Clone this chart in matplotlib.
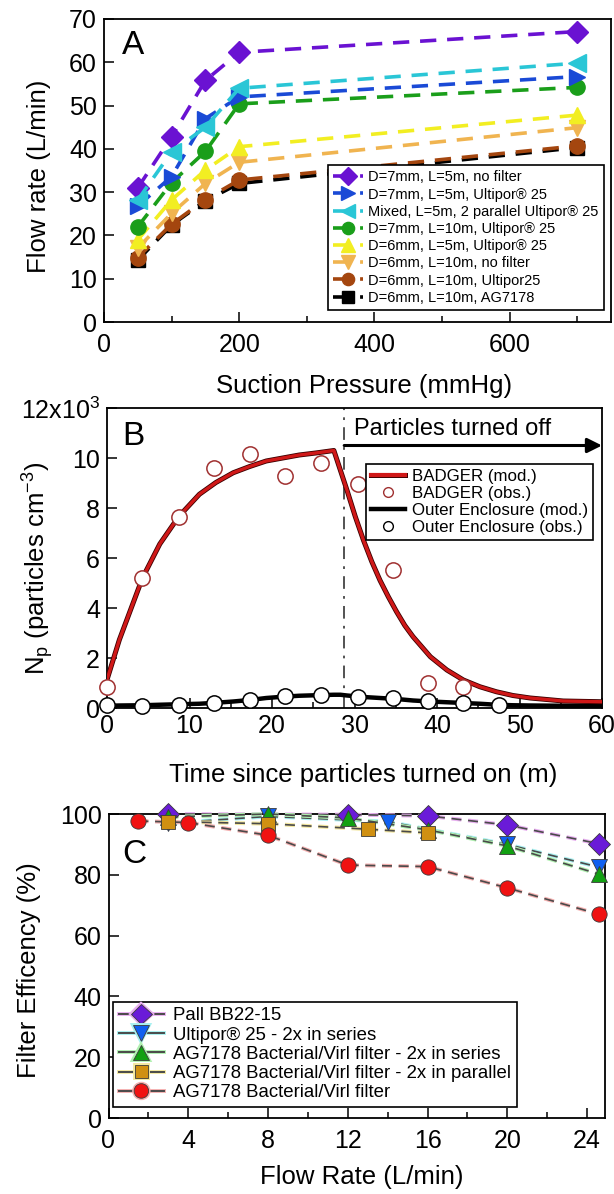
import matplotlib

matplotlib.use("Agg")
import matplotlib.pyplot as plt
import matplotlib.patheffects as pe
from matplotlib.lines import Line2D
from matplotlib.ticker import MultipleLocator

plt.rcParams["font.family"] = ["Liberation Sans", "DejaVu Sans"]
plt.rcParams["mathtext.fontset"] = "custom"
plt.rcParams["mathtext.rm"] = "Liberation Sans"
plt.rcParams["mathtext.it"] = "Liberation Sans:italic"

# ---- panel A: flow rate vs suction pressure
pressure = [50, 100, 150, 200, 700]
flow_labels = [
    "D=7mm, L=5m, no filter",
    "D=7mm, L=5m, Ultipor® 25",
    "Mixed, L=5m, 2 parallel Ultipor® 25",
    "D=7mm, L=10m, Ultipor® 25",
    "D=6mm, L=5m, Ultipor® 25",
    "D=6mm, L=10m, no filter",
    "D=6mm, L=10m, Ultipor25",
    "D=6mm, L=10m, AG7178",
]
flow_d7_l5_nofilter = [31.0, 42.8, 55.8, 62.3, 67.1]
flow_d7_l5_ultipor = [26.8, 33.6, 47.0, 52.0, 56.7]
flow_mixed_parallel = [28.2, 39.3, 45.0, 54.0, 59.8]
flow_d7_l10_ultipor = [22.0, 32.2, 39.4, 50.4, 54.2]
flow_d6_l5_ultipor = [19.0, 28.2, 35.1, 40.5, 47.8]
flow_d6_l10_nofilter = [17.1, 25.1, 32.0, 36.9, 44.9]
flow_d6_l10_ultipor = [14.9, 22.6, 28.3, 32.8, 40.7]
flow_d6_l10_ag7178 = [14.3, 22.4, 28.0, 32.0, 40.3]

# ---- panel B: particle number concentration
t_model = [0, 1.5, 4.3, 6.4, 8.7, 11.2, 13.2, 15.3, 17.3, 19.3, 21.3, 23.3, 25.3,
           27.5, 28.3, 29.1, 30.1, 31.1, 32.1, 33.1, 34.1, 35.1, 36.1, 37.1, 39.2,
           41.2, 43.2, 45.2, 47.2, 49.2, 51.3, 55.3, 60]
badger_model = [1130, 2730, 5200, 6560, 7660, 8550, 9020, 9410, 9660, 9880, 10000,
                10120, 10200, 10300, 9500, 8700, 7650, 6700, 5850, 5100, 4450, 3850,
                3300, 2850, 2050, 1520, 1120, 850, 650, 500, 400, 280, 250]
outer_model = [90, 100, 110, 130, 150, 170, 210, 260, 320, 400, 450, 490, 510,
               530, 530, 500, 470, 440, 420, 400, 380, 360, 330, 300, 260,
               230, 200, 170, 130, 110, 100, 90, 90]
t_obs = [0, 4.3, 8.7, 13.0, 17.3, 21.6, 25.9, 30.4, 34.7, 38.9, 43.2, 47.5]
badger_obs = [840, 5200, 7660, 9590, 10160, 9300, 9790, 8960, 5540, 1000, 840, None]
outer_obs = [130, 90, 130, 220, 330, 500, 530, 460, 400, 300, 200, 130]

# ---- panel C: filter efficiency vs flow rate
pall_flow = [3, 12, 16, 20, 24.6]
pall_eff = [100, 99.8, 99.4, 96.4, 90.2]
ultipor_flow = [3, 8, 14, 20, 24.6]
ultipor_eff = [97.0, 99.2, 97.5, 90.0, 82.5]
ag_series_flow = [3, 8, 12, 16, 20, 24.6]
ag_series_eff = [99.0, 100, 98.7, 94.8, 89.5, 80.2]
ag_parallel_flow = [3, 8, 13, 16]
ag_parallel_eff = [97.5, 96.8, 95.0, 93.8]
ag_single_flow = [1.5, 4, 8, 12, 16, 20, 24.6]
ag_single_eff = [97.7, 97.2, 93.0, 83.2, 82.7, 75.7, 67.0]
filter_labels = [
    "Pall BB22-15",
    "Ultipor® 25 - 2x in series",
    "AG7178 Bacterial/Virl filter - 2x in series",
    "AG7178 Bacterial/Virl filter - 2x in parallel",
    "AG7178 Bacterial/Virl filter",
]

TICK_FS = 18
LABEL_FS = 18.5


def style_axes(ax):
    for sp in ax.spines.values():
        sp.set_linewidth(1.3)
    ax.tick_params(which="both", direction="in", top=False, right=False,
                   labelsize=TICK_FS, width=1.1)
    ax.tick_params(which="major", length=7)
    ax.tick_params(which="minor", length=4)


fig = plt.figure(figsize=(6.14, 11.94), dpi=100)
W, H = 614, 1194


def axes_px(left, right, top, bottom):
    return fig.add_axes([left / W, 1 - bottom / H, (right - left) / W, (bottom - top) / H])


# ================= panel A
axA = axes_px(104, 611, 19, 322)
series_a = [flow_d7_l5_nofilter, flow_d7_l5_ultipor, flow_mixed_parallel, flow_d7_l10_ultipor,
            flow_d6_l5_ultipor, flow_d6_l10_nofilter, flow_d6_l10_ultipor, flow_d6_l10_ag7178]
colors_a = ["#6A12D2", "#1A4AD6", "#2AC6D6", "#1A9E1A", "#F2EE22", "#F0B450", "#A4460F", "#000000"]
markers_a = ["D", ">", "<", "o", "^", "v", "o", "s"]
sizes_a = [11, 12, 13, 11, 12, 12, 11, 10]
zorders_a = [10, 11, 12, 9, 8, 7, 6, 5]
handles_a = []
for vals, col, mk, ms, zo, lab in zip(series_a, colors_a, markers_a, sizes_a, zorders_a, flow_labels):
    (ln,) = axA.plot(pressure, vals, color=col, marker=mk, markersize=ms, lw=2.6,
                     linestyle=(0, (4.5, 3)), markeredgecolor=col, zorder=zo, label=lab,
                     clip_on=False)
    handles_a.append(ln)
axA.set_xlim(0, 750)
axA.set_ylim(0, 70)
axA.xaxis.set_major_locator(MultipleLocator(200))
axA.xaxis.set_minor_locator(MultipleLocator(100))
axA.yaxis.set_major_locator(MultipleLocator(10))
style_axes(axA)
axA.tick_params(axis="x", pad=8)
axA.tick_params(axis="y", pad=5)
axA.set_xlabel("Suction Pressure (mmHg)", fontsize=LABEL_FS, va="center")
axA.xaxis.set_label_coords(0.512, -0.21)
axA.set_ylabel("Flow rate (L/min)", fontsize=LABEL_FS, va="center", ha="center")
axA.yaxis.set_label_coords(-0.128, 0.48)
axA.text(0.057, 0.914, "A", transform=axA.transAxes, fontsize=24, ha="center", va="center")
legA = axA.legend(handles=handles_a, loc="lower right", bbox_to_anchor=(0.986, 0.04),
                  fontsize=10.5, frameon=True, fancybox=False, framealpha=1, edgecolor="black",
                  handlelength=2.0, handletextpad=0.4, labelspacing=0.22, borderpad=0.35,
                  borderaxespad=0, markerscale=0.8)
legA.get_frame().set_linewidth(1.2)
legA.set_zorder(20)

# ================= panel B
axB = axes_px(107, 602, 408, 708)
red_fx = [pe.Stroke(linewidth=3.6, foreground="#3a0000"), pe.Normal()]
(ln_bm,) = axB.plot(t_model, badger_model, color="#D01818", lw=2.4, zorder=4,
                    path_effects=red_fx)
(ln_om,) = axB.plot(t_model, outer_model, color="black", lw=3.2, zorder=3)
bt = [t for t, v in zip(t_obs, badger_obs) if v is not None]
bv = [v for v in badger_obs if v is not None]
axB.plot(bt, bv, linestyle="none", marker="o", markersize=11, markerfacecolor="white",
         markeredgecolor="#A03030", markeredgewidth=1.1, zorder=5, clip_on=False)
axB.plot(t_obs, outer_obs, linestyle="none", marker="o", markersize=11, markerfacecolor="white",
         markeredgecolor="black", markeredgewidth=1.1, zorder=6, clip_on=False)
axB.axvline(28.75, color="#444444", lw=1.3, linestyle=(0, (7, 4, 1.5, 4)), zorder=2)
axB.annotate("", xy=(60, 10500), xytext=(28.75, 10500),
             arrowprops=dict(arrowstyle="-|>", lw=2.2, color="black", mutation_scale=22,
                             shrinkA=0, shrinkB=0), zorder=7)
axB.text(30.0, 11150, "Particles turned off", fontsize=17, ha="left", va="center")
axB.set_xlim(0, 60)
axB.set_ylim(0, 12000)
axB.xaxis.set_major_locator(MultipleLocator(10))
axB.xaxis.set_minor_locator(MultipleLocator(5))
axB.set_yticks([0, 2000, 4000, 6000, 8000, 10000, 12000])
axB.set_yticklabels(["0", "2", "4", "6", "8", "10", "12x10$^{3}$"])
style_axes(axB)
axB.tick_params(axis="x", pad=4)
axB.tick_params(axis="y", pad=5)
axB.set_xlabel("Time since particles turned on (m)", fontsize=LABEL_FS, va="center")
axB.xaxis.set_label_coords(0.518, -0.223)
axB.set_ylabel(r"N$_\mathrm{p}$ (particles cm$^{-3}$)", fontsize=LABEL_FS, va="center", ha="center")
axB.yaxis.set_label_coords(-0.14, 0.464)
axB.text(0.053, 0.904, "B", transform=axB.transAxes, fontsize=24, ha="center", va="center")
handles_b = [
    Line2D([], [], color="#D01818", lw=3, path_effects=red_fx),
    Line2D([], [], linestyle="none", marker="o", markersize=7, markerfacecolor="white",
           markeredgecolor="#A03030"),
    Line2D([], [], color="black", lw=3.2),
    Line2D([], [], linestyle="none", marker="o", markersize=7, markerfacecolor="white",
           markeredgecolor="black"),
]
labels_b = ["BADGER (mod.)", "BADGER (obs.)", "Outer Enclosure (mod.)", "Outer Enclosure (obs.)"]
legB = axB.legend(handles_b, labels_b, loc="upper right", bbox_to_anchor=(0.982, 0.815),
                  fontsize=12.2, fancybox=False, framealpha=1, edgecolor="black",
                  handlelength=2.0, handletextpad=0.4, labelspacing=0.12, borderpad=0.3,
                  borderaxespad=0)
legB.get_frame().set_linewidth(1.2)
legB.set_zorder(20)

# ================= panel C
axC = axes_px(108.5, 605, 814, 1118)
series_c = [
    (pall_flow, pall_eff, "#6A1BD8", "D", 11, "#E8B0F0"),
    (ultipor_flow, ultipor_eff, "#1060F0", "v", 12, "#A8F0F0"),
    (ag_series_flow, ag_series_eff, "#12A012", "^", 12, "#B0F0B0"),
    (ag_parallel_flow, ag_parallel_eff, "#D09012", "s", 10, "#F4E8A0"),
    (ag_single_flow, ag_single_eff, "#F01212", "o", 11, "#F4B0B0"),
]
handles_c = []
for (fx, fy, col, mk, ms, halo), lab in zip(series_c, filter_labels):
    fx_line = [pe.Stroke(linewidth=2.8, foreground=halo), pe.Normal()]
    axC.plot(fx, fy, color="#4a4a4a", lw=1.2, linestyle=(0, (6, 4)), path_effects=fx_line,
             zorder=3, clip_on=False)
    axC.plot(fx, fy, linestyle="none", marker=mk, markersize=ms, markerfacecolor=col,
             markeredgecolor="#3a3a3a", markeredgewidth=0.6, zorder=4, clip_on=False)
    handles_c.append(Line2D([], [], color="#4a4a4a", lw=1.4, path_effects=fx_line, marker=mk,
                            markersize=ms * 0.95, markerfacecolor=col, markeredgecolor="#3a3a3a",
                            markeredgewidth=0.6))
axC.set_xlim(0, 24.9)
axC.set_ylim(0, 100)
axC.xaxis.set_major_locator(MultipleLocator(4))
axC.xaxis.set_minor_locator(MultipleLocator(2))
axC.yaxis.set_major_locator(MultipleLocator(20))
style_axes(axC)
axC.tick_params(axis="x", pad=8)
axC.tick_params(axis="y", pad=5)
axC.set_xlabel("Flow Rate (L/min)", fontsize=LABEL_FS, va="center")
axC.xaxis.set_label_coords(0.511, -0.194)
axC.set_ylabel("Filter Efficency (%)", fontsize=LABEL_FS, va="center", ha="center")
axC.yaxis.set_label_coords(-0.16, 0.487)
axC.text(0.052, 0.868, "C", transform=axC.transAxes, fontsize=24, ha="center", va="center")
legC = axC.legend(handles_c, filter_labels, loc="lower left", bbox_to_anchor=(0.01, 0.036),
                  fontsize=13.4, fancybox=False, framealpha=1, edgecolor="black",
                  handlelength=2.4, handletextpad=0.5, labelspacing=0.12, borderpad=0.3,
                  borderaxespad=0)
legC.get_frame().set_linewidth(1.2)
legC.set_zorder(20)

fig.savefig("out.png", dpi=100)
plt.close(fig)
